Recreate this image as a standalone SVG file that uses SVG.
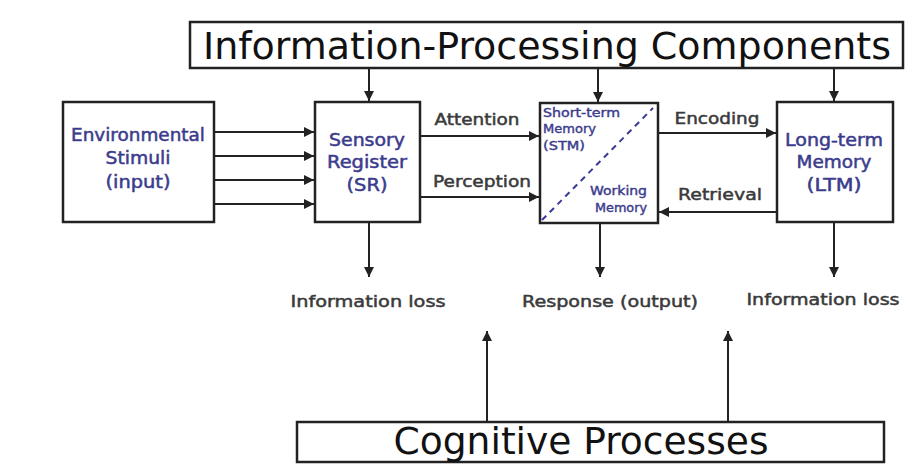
<svg xmlns="http://www.w3.org/2000/svg" width="917" height="472" viewBox="0 0 917 472">
<style>
.box{fill:#fff;stroke:#222;stroke-width:2.5}
.big{font-family:"DejaVu Sans Condensed","DejaVu Sans",sans-serif;fill:#111;text-anchor:middle}
.node{font-family:"DejaVu Sans",sans-serif;font-size:17px;fill:#3c3c8c;stroke:#3c3c8c;stroke-width:0.5;text-anchor:middle}
.small{font-family:"DejaVu Sans",sans-serif;font-size:12px;fill:#3c3c8c;stroke:#3c3c8c;stroke-width:0.4}
.lbl{font-family:"DejaVu Sans",sans-serif;font-size:16px;fill:#3a3a3a;stroke:#3a3a3a;stroke-width:0.5;text-anchor:middle}
.c{stroke:#222;stroke-width:2;fill:none;marker-end:url(#ah)}
</style>
<defs>
<marker id="ah" viewBox="0 0 10 10" refX="10" refY="5" markerWidth="5" markerHeight="5" orient="auto" markerUnits="strokeWidth">
<path d="M0,0 L10,5 L0,10 z" fill="#222"/>
</marker>
</defs>
<rect width="917" height="472" fill="#fff"/>
<g id="ipc">
<rect class="box" x="190" y="22" width="713" height="46"/>
<text class="big" x="547" y="59" font-size="37" textLength="688" lengthAdjust="spacingAndGlyphs">Information-Processing Components</text>
</g>
<g id="env">
<rect class="box" x="63" y="102" width="151" height="120"/>
<text class="node" x="138" y="141" textLength="134" lengthAdjust="spacingAndGlyphs">Environmental</text>
<text class="node" x="138" y="164" textLength="65" lengthAdjust="spacingAndGlyphs">Stimuli</text>
<text class="node" x="138" y="188" textLength="65" lengthAdjust="spacingAndGlyphs">(input)</text>
</g>
<g id="sr">
<rect class="box" x="315" y="102" width="105" height="120"/>
<text class="node" x="367" y="146" textLength="76" lengthAdjust="spacingAndGlyphs">Sensory</text>
<text class="node" x="367" y="168" textLength="80" lengthAdjust="spacingAndGlyphs">Register</text>
<text class="node" x="367" y="191" textLength="41" lengthAdjust="spacingAndGlyphs">(SR)</text>
</g>
<g id="stm">
<rect class="box" x="540" y="103" width="118" height="120"/>
<line x1="542" y1="220" x2="653" y2="108" stroke="#3a3a9a" stroke-width="2" stroke-dasharray="6,5"/>
<text class="small" x="543" y="117" textLength="77" lengthAdjust="spacingAndGlyphs">Short-term</text>
<text class="small" x="543" y="133" textLength="53" lengthAdjust="spacingAndGlyphs">Memory</text>
<text class="small" x="543" y="150" textLength="42" lengthAdjust="spacingAndGlyphs">(STM)</text>
<text class="small" x="647" y="195" text-anchor="end" textLength="57" lengthAdjust="spacingAndGlyphs">Working</text>
<text class="small" x="647" y="212" text-anchor="end" textLength="52" lengthAdjust="spacingAndGlyphs">Memory</text>
</g>
<g id="ltm">
<rect class="box" x="777" y="102" width="116" height="120"/>
<text class="node" x="834" y="146" textLength="98" lengthAdjust="spacingAndGlyphs">Long-term</text>
<text class="node" x="834" y="168" textLength="75" lengthAdjust="spacingAndGlyphs">Memory</text>
<text class="node" x="834" y="191" textLength="55" lengthAdjust="spacingAndGlyphs">(LTM)</text>
</g>
<g id="cp">
<rect class="box" x="297" y="422" width="587" height="40"/>
<text class="big" x="581" y="454" font-size="38" textLength="375" lengthAdjust="spacingAndGlyphs">Cognitive Processes</text>
</g>
<g id="outputs">
<text class="lbl" x="368" y="307" textLength="155" lengthAdjust="spacingAndGlyphs">Information loss</text>
<text class="lbl" x="610" y="307" textLength="176" lengthAdjust="spacingAndGlyphs">Response (output)</text>
<text class="lbl" x="823" y="305" textLength="153" lengthAdjust="spacingAndGlyphs">Information loss</text>
</g>
<g id="labels">
<text class="lbl" x="477" y="125" textLength="85" lengthAdjust="spacingAndGlyphs">Attention</text>
<text class="lbl" x="482" y="187" textLength="98" lengthAdjust="spacingAndGlyphs">Perception</text>
<text class="lbl" x="717" y="124" textLength="85" lengthAdjust="spacingAndGlyphs">Encoding</text>
<text class="lbl" x="720" y="200" textLength="84" lengthAdjust="spacingAndGlyphs">Retrieval</text>
</g>
<g id="connectors">
<line class="c" x1="369" y1="68" x2="369" y2="101"/>
<line class="c" x1="598" y1="68" x2="598" y2="102"/>
<line class="c" x1="834" y1="68" x2="834" y2="101"/>
<line class="c" x1="214" y1="132" x2="314" y2="132"/>
<line class="c" x1="214" y1="156" x2="314" y2="156"/>
<line class="c" x1="214" y1="180" x2="314" y2="180"/>
<line class="c" x1="214" y1="204" x2="314" y2="204"/>
<line class="c" x1="420" y1="136" x2="539" y2="136"/>
<line class="c" x1="420" y1="197" x2="539" y2="197"/>
<line class="c" x1="658" y1="133" x2="776" y2="133"/>
<line class="c" x1="777" y1="212" x2="659" y2="212"/>
<line class="c" x1="369" y1="222" x2="369" y2="277"/>
<line class="c" x1="600" y1="223" x2="600" y2="277"/>
<line class="c" x1="834" y1="222" x2="834" y2="277"/>
<line class="c" x1="487" y1="421" x2="487" y2="331"/>
<line class="c" x1="728" y1="421" x2="728" y2="331"/>
</g>
</svg>
